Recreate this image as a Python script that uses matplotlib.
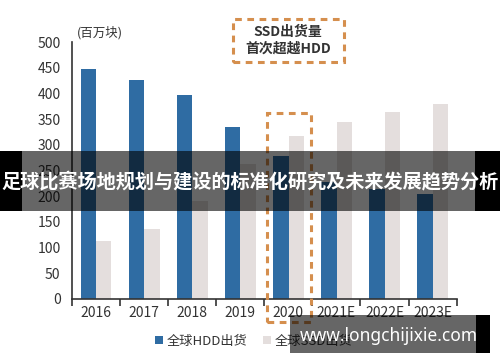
import matplotlib
matplotlib.use("Agg")
import matplotlib.pyplot as plt
from matplotlib.patches import Rectangle
import numpy as np

plt.rcParams['font.family'] = ['Noto Sans CJK SC', 'DejaVu Sans']

categories = ["2016", "2017", "2018", "2019", "2020", "2021E", "2022E", "2023E"]
hdd = [447, 426, 396, 335, 278, 228, 214, 205]
ssd = [113, 137, 191, 263, 317, 344, 364, 379]
series_names = ["全球HDD出货", "全球SSD出货"]
unit_label = "(百万块)"
note_text = "SSD出货量\n首次超越HDD"
banner_text = "足球比赛场地规划与建设的标准化研究及未来发展趋势分析"
watermark = "www.longchijixie.com"

HDD_C = "#2F6CA3"
SSD_C = "#E4DEDD"
ORANGE = "#D58F4E"
TXT = "#333333"

W, H = 500, 362
fig = plt.figure(figsize=(5, 3.62), dpi=100)
ax = fig.add_axes([71.7 / W, 1 - 299 / H, 385 / W, 257 / H])

x = np.arange(len(categories))
bw = 0.32
b1 = ax.bar(x - 0.155, hdd, bw, color=HDD_C, label=series_names[0], zorder=2)
b2 = ax.bar(x + 0.165, ssd, bw, color=SSD_C, label=series_names[1], zorder=2)

ax.set_xlim(-0.5, len(categories) - 0.5)
ax.set_ylim(0, 500)
ax.set_yticks(np.arange(0, 501, 50))
ax.set_xticks(x)
ax.set_xticklabels(categories)
ax.set_xticks(np.arange(-0.5, len(categories), 1), minor=True)
ax.tick_params(axis='y', length=0, pad=8, labelsize=10, labelcolor=TXT)
ax.tick_params(axis='x', which='major', length=0, pad=5, labelsize=10, labelcolor=TXT)
ax.tick_params(axis='x', which='minor', length=5, width=1.2, color=TXT, direction='out')
for s in ['top', 'right']:
    ax.spines[s].set_visible(False)
for s in ['left', 'bottom']:
    ax.spines[s].set_color(TXT)
    ax.spines[s].set_linewidth(1.2)

fig.text(77 / W, 1 - 33 / H, unit_label, fontsize=9, color=TXT, va='center', ha='left')

# dashed highlight around 2020
i20 = categories.index("2020")
ax.add_patch(Rectangle((i20 - 0.45, -45), 0.92, 407, fill=False, ls=(0, (2.2, 1.8)),
                       lw=2.2, ec=ORANGE, clip_on=False, zorder=3))
# note box
ax.add_patch(Rectangle((2.85, 461), 2.31, 84, fill=False, ls=(0, (2.2, 1.8)),
                       lw=2.2, ec=ORANGE, clip_on=False, zorder=3))
ax.text(4.0, 503, note_text, ha='center', va='center', fontsize=10, color=TXT,
        fontweight='bold', linespacing=1.25, clip_on=False)

leg = ax.legend(handles=[b1, b2], loc='center', bbox_to_anchor=(254 / W, 1 - 341 / H),
                bbox_transform=fig.transFigure, ncol=2, frameon=False, fontsize=9.5,
                handlelength=0.6, handleheight=0.6, handletextpad=0.25, columnspacing=1.2,
                borderaxespad=0)
for t in leg.get_texts():
    t.set_color(TXT)

# banner overlay
fig.patches.append(Rectangle((0, 1 - 211 / H), 22 / W, 60 / H, transform=fig.transFigure,
                             fc='black', ec='none', zorder=10))
fig.patches.append(Rectangle((475 / W, 1 - 211 / H), 25 / W, 60 / H, transform=fig.transFigure,
                             fc='black', ec='none', zorder=10))
fig.patches.append(Rectangle((22 / W, 1 - 211 / H), 453 / W, 60 / H, transform=fig.transFigure,
                             fc='black', alpha=0.6, ec='none', zorder=10))
fig.text(0.5, 1 - 182 / H, banner_text, ha='center', va='center', fontsize=13.8,
         fontweight='bold', color='white', zorder=11)

# watermark
fig.patches.append(Rectangle((290 / W, 1 - 353 / H), 186 / W, 38 / H, transform=fig.transFigure,
                             fc='black', alpha=0.6, ec='none', zorder=10))
fig.patches.append(Rectangle((476 / W, 1 - 353 / H), 14 / W, 38 / H, transform=fig.transFigure,
                             fc='black', ec='none', zorder=10))
fig.text(389 / W, 1 - 336 / H, watermark, ha='center', va='center', fontsize=12.5,
         fontweight='bold', color='white', family=['Noto Sans', 'DejaVu Sans'], zorder=11)

fig.savefig("out.png", dpi=100)
